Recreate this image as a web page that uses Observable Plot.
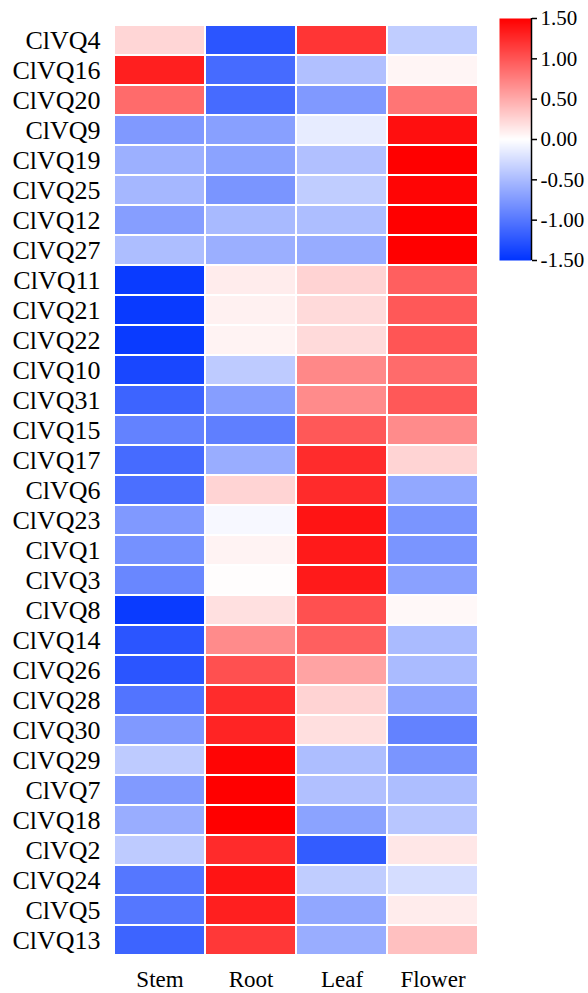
<!DOCTYPE html>
<html>
<head>
<meta charset="utf-8">
<script src="https://cdn.jsdelivr.net/npm/d3@7"></script>
<script src="https://cdn.jsdelivr.net/npm/@observablehq/plot@0.6"></script>
<style>
  html, body { margin: 0; padding: 0; background: #fff; }
  #chart { position: relative; width: 588px; height: 993px; }
  #legend { position: absolute; left: 499px; top: 0; }
</style>
</head>
<body>
<div id="chart"><div id="legend"></div></div>
<script>
const genes = ["ClVQ4","ClVQ16","ClVQ20","ClVQ9","ClVQ19","ClVQ25","ClVQ12","ClVQ27",
  "ClVQ11","ClVQ21","ClVQ22","ClVQ10","ClVQ31","ClVQ15","ClVQ17","ClVQ6","ClVQ23",
  "ClVQ1","ClVQ3","ClVQ8","ClVQ14","ClVQ26","ClVQ28","ClVQ30","ClVQ29","ClVQ7",
  "ClVQ18","ClVQ2","ClVQ24","ClVQ5","ClVQ13"];
const tissues = ["Stem","Root","Leaf","Flower"];

const stem   = [0.24, 1.32, 0.87, -0.75, -0.58, -0.53, -0.71, -0.48, -1.44, -1.45, -1.44, -1.35, -1.14, -0.92, -1.09, -1.06, -0.75, -0.81, -0.88, -1.44, -1.25, -1.25, -1.02, -0.75, -0.38, -0.74, -0.60, -0.38, -1.00, -1.00, -1.14];
const root   = [-1.25, -1.09, -1.09, -0.70, -0.68, -0.78, -0.51, -0.59, 0.11, 0.08, 0.07, -0.38, -0.71, -0.94, -0.60, 0.25, -0.05, 0.07, 0.01, 0.18, 0.68, 1.03, 1.24, 1.29, 1.47, 1.50, 1.52, 1.25, 1.38, 1.32, 1.17];
const leaf   = [1.19, -0.46, -0.75, -0.14, -0.46, -0.37, -0.48, -0.61, 0.26, 0.22, 0.22, 0.70, 0.68, 0.98, 1.24, 1.25, 1.38, 1.35, 1.35, 1.03, 0.94, 0.54, 0.26, 0.19, -0.48, -0.46, -0.68, -1.20, -0.37, -0.65, -0.60];
const flower = [-0.37, 0.06, 0.81, 1.41, 1.60, 1.47, 1.50, 1.55, 0.94, 0.98, 1.00, 0.87, 0.98, 0.68, 0.25, -0.64, -0.78, -0.78, -0.69, 0.04, -0.50, -0.50, -0.66, -0.92, -0.78, -0.48, -0.42, 0.14, -0.25, 0.11, 0.37];

const legendTicks = [-1.5, -1.0, -0.5, 0, 0.5, 1.0, 1.5];
const colorDomain = [-1.5, 1.5];
const colorStops = ["#0033ff", "#ffffff", "#ff0000"];

const series = [stem, root, leaf, flower];
const data = genes.flatMap((g, i) => tissues.map((t, j) => ({gene: g, tissue: t, value: series[j][i]})));

const colorScale = {
  type: "diverging",
  domain: colorDomain,
  pivot: 0,
  interpolate: d3.piecewise(d3.interpolateRgb, colorStops),
  clamp: true
};

const font = "'Liberation Serif', 'Times New Roman', serif";

const main = Plot.plot({
  width: 588,
  height: 993,
  marginLeft: 112,
  marginRight: 109,
  marginTop: 18,
  marginBottom: 32,
  style: {fontFamily: font, color: "#000", background: "transparent", overflow: "visible"},
  x: {domain: tissues, padding: 0, label: null},
  y: {domain: genes, padding: 0, label: null},
  color: colorScale,
  marks: [
    Plot.cell(data, {x: "tissue", y: "gene", fill: "value", inset: 1}),
    Plot.axisY({tickSize: 0, tickPadding: 12, fontSize: 26, label: null}),
    Plot.axisX({tickSize: 0, tickPadding: 9, fontSize: 23, label: null})
  ]
});
document.getElementById("chart").prepend(main);

const legend = Plot.plot({
  width: 89,
  height: 280,
  marginLeft: 0,
  marginRight: 57,
  marginTop: 18,
  marginBottom: 20,
  style: {fontFamily: font, color: "#000", background: "transparent", overflow: "visible"},
  x: {domain: [0, 1], axis: null},
  y: {domain: colorDomain, label: null},
  color: colorScale,
  marks: [
    Plot.raster({x1: 0, x2: 1, y1: colorDomain[0], y2: colorDomain[1], width: 1, height: 242,
      fill: (x, y) => y, imageRendering: "auto"}),
    Plot.ruleX([1], {stroke: "#000", strokeWidth: 1.5}),
    Plot.axisY({anchor: "right", ticks: legendTicks, tickFormat: d => d.toFixed(2),
      tickSize: 5, tickPadding: 4, fontSize: 21, label: null, strokeWidth: 1.5})
  ]
});
document.getElementById("legend").append(legend);
</script>
</body>
</html>
